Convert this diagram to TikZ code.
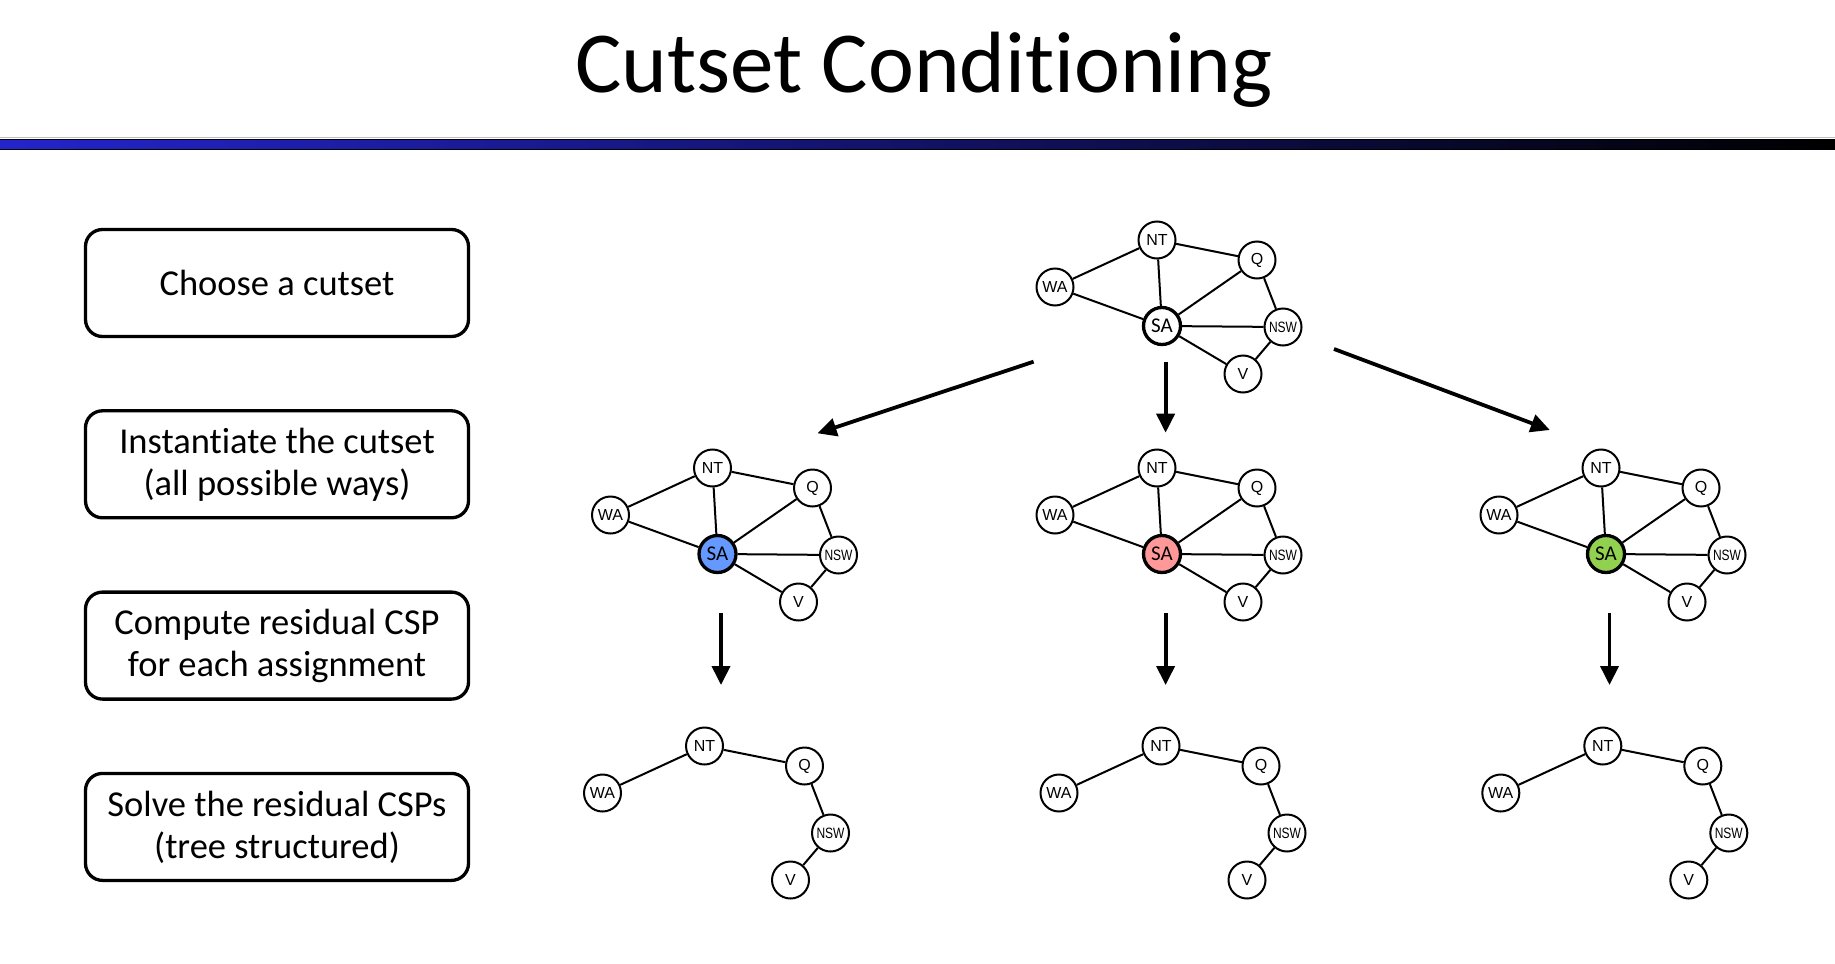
\documentclass[tikz,border=0pt]{standalone}
\usepackage{fontspec}
\setmainfont{Carlito}[Ligatures=NoCommon]
\newfontfamily\mapfont{Liberation Sans}
\usetikzlibrary{arrows.meta}
\usetikzlibrary{positioning}

\definecolor{barblue}{RGB}{36,36,204}
\definecolor{sablue}{RGB}{102,153,255}
\definecolor{sapink}{RGB}{255,153,153}
\definecolor{sagreen}{RGB}{146,208,80}

% one copy of the map graph: prefix, shift x, shift y, fill of SA
\newcommand\mapgraph[4]{%
  \begin{scope}[shift={(#2,#3)}]
    \node[state] (#1NT) at (1157,240) {NT};
    \node[state] (#1Q) at (1257,260) {Q};
    \node[state] (#1WA) at (1055,287) {WA};
    \node[cut node,fill=#4] (#1SA) at (1162,326) {SA};
    \node[state] (#1NSW) at (1283,327) {\nswlabel};
    \node[state] (#1V) at (1243,374) {V};
    \path[edge] (#1WA) edge (#1NT) edge (#1SA)
      (#1NT) edge (#1SA) edge (#1Q)
      (#1Q) edge (#1SA) edge (#1NSW)
      (#1SA) edge (#1NSW) edge (#1V)
      (#1NSW) edge (#1V);
  \end{scope}}
% the residual tree, SA taken out
\newcommand\maptree[3]{%
  \begin{scope}[shift={(#2,#3)}]
    \node[state] (#1NT) at (1157,240) {NT};
    \node[state] (#1Q) at (1257,260) {Q};
    \node[state] (#1WA) at (1055,287) {WA};
    \node[state] (#1NSW) at (1283,327) {\nswlabel};
    \node[state] (#1V) at (1243,374) {V};
    \path[edge] (#1WA) edge (#1NT)
      (#1NT) edge (#1Q)
      (#1Q) edge (#1NSW)
      (#1NSW) edge (#1V);
  \end{scope}}
\newcommand\nswlabel{\fontsize{15}{15}\selectfont\scalebox{0.8}[1]{NSW}}

\begin{document}
\begin{tikzpicture}[x=1pt,y=-1pt,
  state/.style={circle,draw,fill=white,line width=2pt,minimum size=37pt,inner sep=0pt,
    font=\mapfont\fontsize{16}{16}\selectfont},
  cut node/.style={state,line width=3.3pt,font=\fontsize{21}{21}\selectfont},
  edge/.style={line width=2pt},
  stepbox/.style={draw,rounded corners=17pt,line width=3.3pt,minimum width=383pt,
    minimum height=107pt,align=center,font=\fontsize{36.5}{42}\selectfont},
  bigarrow/.style={line width=3.8pt,-{Triangle[length=19pt,width=18pt]}}]
  \useasboundingbox (0,0) rectangle (1835,963);

  % title and bar
  \node[anchor=base,font=\fontsize{87}{90}\selectfont] (title) at (924,93) {Cutset Conditioning};
  \draw[black!25,line width=1pt] (0,137.5) -- (1835,137.5);
  \shade[left color=barblue,right color=black] (0,139) rectangle (1835,149.5);
  \draw[line width=1pt] (0,139) -- (1835,139) (0,149.5) -- (1835,149.5);

  % steps on the left
  \node[stepbox] (choose) at (277,283) {Choose a cutset};
  \node[stepbox,below=71pt of choose] (inst) {Instantiate the cutset\\(all possible ways)};
  \node[stepbox,below=71pt of inst] (comp) {Compute residual CSP\\for each assignment};
  \node[stepbox,below=71pt of comp] (solve) {Solve the residual CSPs\\(tree structured)};

  % graphs
  \mapgraph{t}{0}{0}{white}
  \mapgraph{l}{-444.5}{228}{sablue}
  \mapgraph{m}{0}{228}{sapink}
  \mapgraph{r}{444}{228}{sagreen}
  \maptree{lt}{-452.5}{506}
  \maptree{mt}{4}{506}
  \maptree{rt}{445.8}{506}

  % arrows
  \coordinate (fromL) at (1033.6,361.7);
  \coordinate (toL) at (817.5,433.3);
  \coordinate (fromM) at (1165.6,361.7);
  \coordinate (toM) at (1165.6,432.7);
  \coordinate (fromR) at (1334,349);
  \coordinate (toR) at (1549.8,430);
  \draw[bigarrow] (fromL) -- (toL);
  \draw[bigarrow] (fromM) -- (toM);
  \draw[bigarrow] (fromR) -- (toR);
  \foreach \x/\n in {721/l,1165.6/m,1609.5/r}{
    \coordinate (\n from) at (\x,613.3);
    \coordinate (\n to) at (\x,685);
    \draw[bigarrow] (\n from) -- (\n to);
  }
\end{tikzpicture}
\end{document}
